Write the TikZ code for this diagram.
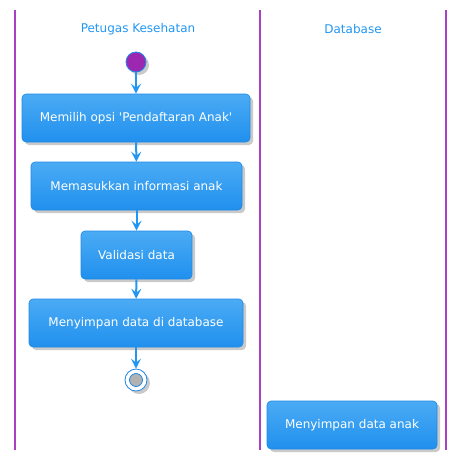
\documentclass[tikz,border=0pt]{standalone}
\usepackage{fontspec}
\setmainfont{DejaVu Sans}
\usetikzlibrary{shadows,arrows.meta}
\definecolor{lane}{HTML}{A83FC4}
\definecolor{ttl}{HTML}{2196F3}
\definecolor{btop}{HTML}{4BABF4}
\definecolor{bbot}{HTML}{2090EE}
\definecolor{bord}{HTML}{1E88E5}
\definecolor{arr}{HTML}{2196F3}
\definecolor{startc}{HTML}{9C27B0}
\begin{document}
\begin{tikzpicture}[x=1pt,y=-1pt,
  act/.style={draw=bord,line width=0.6pt,rounded corners=4pt,top color=btop,bottom color=bbot,
    text=white,font=\fontsize{12}{14}\selectfont,
    drop shadow={shadow xshift=3pt,shadow yshift=-3pt,fill=black!35,opacity=0.6}},
  ttlstyle/.style={text=ttl,font=\fontsize{12}{14}\selectfont},
  lanel/.style={draw=lane,line width=1.5pt},
  flow/.style={draw=arr,line width=2pt,-{Stealth[length=10pt,width=10pt,inset=4pt]}}]
\useasboundingbox (0,0) rectangle (476,466);
\draw[lanel] (15,10) -- (15,450);
\draw[lanel] (260,10) -- (260,450);
\draw[lanel] (446,10) -- (446,450);
\node[ttlstyle] (t1) at (138,29) {Petugas Kesehatan};
\node[ttlstyle] (t2) at (353,29) {Database};
\node[circle,fill=startc,draw=bord,line width=0.8pt,minimum size=20pt,inner sep=0pt,
  drop shadow={shadow xshift=3pt,shadow yshift=-3pt,fill=black!35,opacity=0.6}] (s) at (136,62) {};
\node[act,minimum width=228pt,minimum height=48pt] (b1) at (136,118) {Memilih opsi \textquotesingle Pendaftaran Anak\textquotesingle};
\node[act,minimum width=211pt,minimum height=48pt] (b2) at (136.5,186) {Memasukkan informasi anak};
\node[act,minimum width=111pt,minimum height=48pt] (b3) at (136.5,255) {Validasi data};
\node[act,minimum width=214pt,minimum height=48pt] (b4) at (136,323) {Menyimpan data di database};
\node[circle,draw=bord,fill=white,line width=0.8pt,minimum size=22pt,inner sep=0pt,
  drop shadow={shadow xshift=3pt,shadow yshift=-3pt,fill=black!35,opacity=0.6}] (e) at (136,380) {};
\node[circle,draw=bord,fill=black!30,line width=0.8pt,minimum size=13pt,inner sep=0pt] (ei) at (136,380) {};
\node[act,minimum width=170pt,minimum height=48pt] (b5) at (352,425) {Menyimpan data anak};
\draw[flow] (s) -- (b1);
\draw[flow] (b1) -- (b2);
\draw[flow] (b2) -- (b3);
\draw[flow] (b3) -- (b4);
\draw[flow] (b4) -- (e);
\end{tikzpicture}
\end{document}
